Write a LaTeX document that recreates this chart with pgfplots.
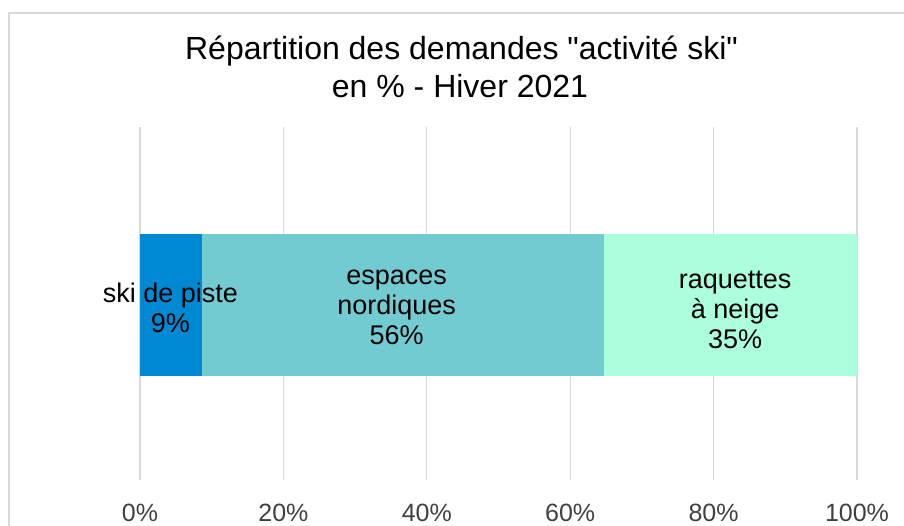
\documentclass[border=0pt]{standalone}
\usepackage{pgfplots}
\pgfplotsset{compat=1.18}
\usepackage{fontspec}
\setmainfont{Liberation Sans}
\definecolor{cblue}{HTML}{0089D3}
\definecolor{cteal}{HTML}{73CBD2}
\definecolor{cmint}{HTML}{ABFFDD}
\definecolor{cgrid}{HTML}{D9D9D9}
\begin{document}
\begin{tikzpicture}[x=1bp,y=1bp]
\useasboundingbox (0,0) rectangle (904,526);
\draw[cgrid, line width=2bp] (9,-20) -- (9,513) -- (930,513);
\node[font=\fontsize{32bp}{36bp}\selectfont, anchor=base, inner sep=0pt] at (461.5,466) {Répartition des demandes \textquotedbl activité ski\textquotedbl};
\node[font=\fontsize{32bp}{36bp}\selectfont, anchor=base, inner sep=0pt] at (460,428) {en \% - Hiver 2021};
\begin{axis}[
  at={(140bp,46bp)}, anchor=south west,
  scale only axis, width=717bp, height=353bp,
  xbar stacked, bar width=142bp,
  xmin=0, xmax=100, ymin=-0.9915, ymax=1.0085,
  axis line style={draw=none},
  major tick length=0pt,
  ytick=\empty,
  xtick={0,20,40,60,80,100},
  xticklabels={0\%,20\%,40\%,60\%,80\%,100\%},
  xticklabel style={font=\fontsize{25bp}{30bp}\selectfont, text=black!75, anchor=base, yshift=-42bp},
  xmajorgrids,
  grid style={cgrid, line width=1.3bp},
  clip=false,
]
\addplot[fill=cblue, draw=none] coordinates {(8.6,0)};
\addplot[fill=cteal, draw=none] coordinates {(56.1,0)};
\addplot[fill=cmint, draw=none] coordinates {(35.3,0)};
\coordinate (la) at (axis cs:4.25,-0.015);
\coordinate (lb) at (axis cs:35.8,-0.015);
\coordinate (lc) at (axis cs:83.0,-0.03);
\end{axis}
\node[font=\fontsize{27bp}{30bp}\selectfont, align=center, text=black] at (la) {ski de piste\\9\%};
\node[font=\fontsize{27bp}{30bp}\selectfont, align=center, text=black] at (lb) {espaces\\nordiques\\56\%};
\node[font=\fontsize{27bp}{30bp}\selectfont, align=center, text=black] at (lc) {raquettes\\à neige\\35\%};
\end{tikzpicture}
\end{document}
